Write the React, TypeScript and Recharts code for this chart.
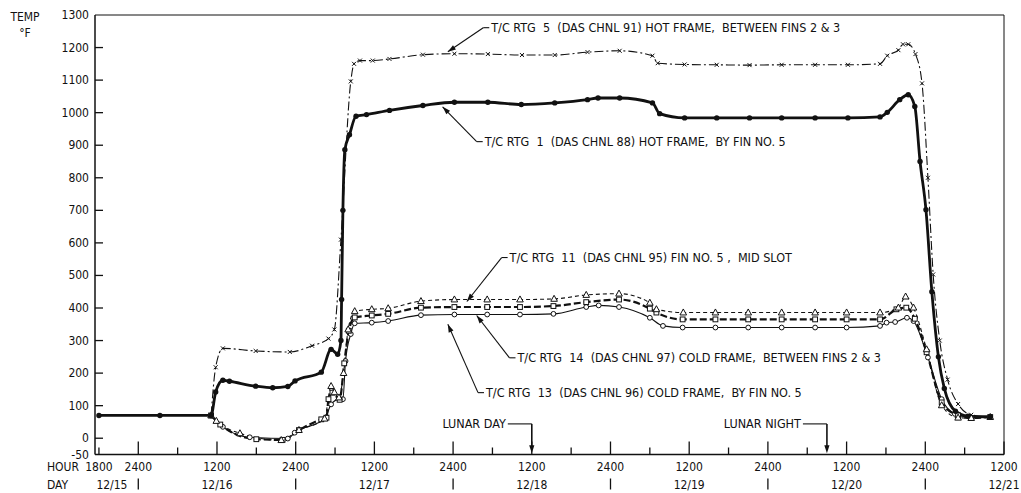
import React from 'react';
import { LineChart, Line, XAxis, YAxis, ReferenceLine } from 'recharts';

// hours counted from 12/15 0000, temperatures in deg F
const rtg5: number[][] = [
  [35.1, 70], [35.8, 218], [36.9, 276], [41.9, 268], [47.1, 265], [50.5, 284], [53.0, 306], [53.9, 334],
  [54.9, 610], [56.4, 1096], [56.9, 1150], [57.8, 1160], [59.75, 1160], [62.3, 1165], [67.4, 1178],
  [72.2, 1181], [77.3, 1180], [82.5, 1177], [87.5, 1177], [92.5, 1186], [97.4, 1190], [102.4, 1175],
  [103.2, 1152], [107.3, 1148], [112.2, 1147], [117.2, 1146], [122.1, 1147], [127.2, 1147], [132.2, 1147],
  [137.1, 1150], [138.2, 1175], [139.9, 1192], [140.6, 1210], [141.4, 1210], [142.5, 1180], [143.5, 1090],
  [144.4, 800], [145.2, 503], [146.2, 300], [147.4, 180], [149.0, 105], [151.0, 72], [153.9, 65],
];

const rtg1: number[][] = [
  [18, 70], [27.3, 70], [35.1, 70], [35.8, 142], [36.9, 178], [37.9, 175], [41.9, 160], [44.5, 155],
  [46.8, 159], [47.9, 176], [51.9, 203], [53.4, 273], [54.4, 258], [54.9, 300], [55.0, 426], [55.2, 700],
  [55.5, 886], [56.2, 932], [57.2, 989], [58.8, 994], [62.3, 1007], [67.4, 1022], [72.2, 1032], [77.3, 1032],
  [82.4, 1025], [87.5, 1030], [92.5, 1040], [94.1, 1045], [97.4, 1045], [102.4, 1030], [103.5, 997],
  [107.3, 984], [112.2, 984], [117.2, 984], [122.1, 984], [127.2, 984], [132.2, 984], [137.1, 987],
  [138.2, 1001], [140.1, 1040], [141.4, 1055], [142.4, 1019], [143.2, 850], [144.1, 702], [145.0, 450],
  [146.0, 250], [146.9, 153], [148.6, 83], [150.5, 68], [153.9, 66],
];

const rtg11: number[][] = [
  [35.1, 70], [35.9, 53], [39.5, 15], [45.8, -6], [48.5, 25], [52.4, 60], [53.4, 160], [53.9, 141],
  [54.6, 125], [55.3, 200], [56.0, 334], [57.0, 390], [59.6, 396], [62.1, 399], [67.1, 421], [72.2, 426],
  [77.2, 426], [82.2, 426], [87.4, 428], [92.3, 440], [97.3, 444], [102.0, 416], [103.0, 396], [107.1, 386],
  [112.0, 386], [117.0, 386], [122.1, 386], [127.2, 386], [132.0, 386], [137.1, 386], [139.9, 401],
  [141.0, 435], [142.2, 401], [144.2, 273], [146.5, 101], [149.0, 63], [151.0, 62], [153.9, 65],
];

const rtg14: number[][] = [
  [35.1, 70], [36.5, 42], [42.0, -3], [46.0, -5], [48.5, 25], [51.9, 58], [52.7, 63], [53.0, 120],
  [53.6, 140], [54.7, 118], [55.4, 230], [56.1, 330], [57.0, 371], [59.6, 377], [62.1, 382], [67.1, 401],
  [72.2, 403], [77.2, 403], [82.2, 403], [87.3, 406], [92.3, 418], [97.3, 426], [102.0, 398], [103.0, 386],
  [107.0, 365], [112.0, 365], [117.0, 365], [122.1, 365], [127.2, 365], [132.0, 365], [137.1, 365],
  [139.6, 396], [141.1, 401], [142.4, 367], [144.2, 264], [146.5, 110], [149.0, 70], [151.0, 62], [153.9, 65],
];

const rtg13: number[][] = [
  [35.1, 70], [36.9, 35], [41.0, 3], [46.8, -1], [47.85, 17], [52.5, 62], [53.4, 104], [54.7, 120],
  [55.2, 120], [55.6, 237], [56.4, 320], [57.0, 353], [59.6, 355], [62.1, 360], [67.1, 378], [72.2, 380],
  [77.2, 380], [82.2, 380], [87.3, 382], [92.3, 403], [94.2, 408], [97.3, 403], [102.0, 370], [104.0, 345],
  [107.0, 340], [112.0, 340], [117.0, 340], [122.1, 340], [127.2, 340], [132.0, 340], [137.1, 345],
  [138.1, 355], [139.4, 357], [141.2, 370], [142.2, 360], [144.4, 248], [146.5, 120], [148.5, 75],
  [151.0, 64], [153.9, 65],
];

const hourTicks = [18, 24, 30, 36, 42, 48, 54, 60, 66, 72, 78, 84, 90, 96, 102, 108, 114, 120, 126, 132, 138, 144, 150, 156];
const hourLabels: Record<number, string> = {
  18: '1800', 24: '2400', 36: '1200', 48: '2400', 60: '1200', 72: '2400', 84: '1200',
  96: '2400', 108: '1200', 120: '2400', 132: '1200', 144: '2400', 156: '1200',
};
const dayLabels: Record<number, string> = {
  36: '12/16', 60: '12/17', 84: '12/18', 108: '12/19', 132: '12/20', 156: '12/21',
};
const midnights = [24, 48, 72, 96, 120, 144];
const tempTicks = [-50, 0, 100, 200, 300, 400, 500, 600, 700, 800, 900, 1000, 1100, 1200, 1300];

// annotation anchors: [arrow tip hour, tip temp, text hour, text temp]
const seriesNotes: { text: string; at: number[] }[] = [
  { text: 'T/C RTG  5  (DAS CHNL 91) HOT FRAME,  BETWEEN FINS 2 & 3', at: [71.2, 1187, 76.6, 1261] },
  { text: 'T/C RTG  1  (DAS CHNL 88) HOT FRAME,  BY FIN NO. 5', at: [70.4, 1018, 75.6, 911] },
  { text: 'T/C RTG  11  (DAS CHNL 95) FIN NO. 5 ,  MID SLOT', at: [74.1, 420, 79.4, 555] },
  { text: 'T/C RTG  14  (DAS CHNL 97) COLD FRAME,  BETWEEN FINS 2 & 3', at: [75.6, 377, 80.6, 247] },
  { text: 'T/C RTG  13  (DAS CHNL 96) COLD FRAME,  BY FIN NO. 5', at: [71.2, 350, 75.8, 140] },
];
const lunarNotes: { text: string; hour: number }[] = [
  { text: 'LUNAR DAY', hour: 84 },
  { text: 'LUNAR NIGHT', hour: 129 },
];

const FONT = '"DejaVu Sans Condensed", "Liberation Sans Narrow", "DejaVu Sans", sans-serif';
const INK = '#111';
const TINY = 0.0001; // recharts swaps a 0 tick size for its default

const toPts = (rows: number[][]) => rows.map(([h, v]) => ({ h, v }));

function HourTick(props: any) {
  const { x, y, payload } = props;
  const h = payload.value as number;
  const len = h % 12 === 0 ? 13 : 7;
  const hour = hourLabels[h];
  const day = dayLabels[h];
  return (
    <g fontFamily={FONT} fontSize={12} fill={INK}>
      <line x1={x} x2={x} y1={y} y2={y - len} stroke={INK} strokeWidth={1.3} />
      {hour && (
        <text x={x} y={y + 12} textAnchor="middle" dominantBaseline="central">{hour}</text>
      )}
      {day && (
        <text x={x} y={y + 30} textAnchor="middle" dominantBaseline="central">{day}</text>
      )}
      {midnights.includes(h) && (
        <line x1={x} x2={x} y1={y + 24} y2={y + 35} stroke={INK} strokeWidth={1.3} />
      )}
      {h === 18 && (
        <>
          <text x={x + 13} y={y + 30} textAnchor="middle" dominantBaseline="central">12/15</text>
          <text x={x - 52} y={y + 12} dominantBaseline="central">HOUR</text>
          <text x={x - 52} y={y + 30} dominantBaseline="central">DAY</text>
        </>
      )}
    </g>
  );
}

function TempTick(props: any) {
  const { x, y, payload } = props;
  const v = payload.value as number;
  return (
    <g fontFamily={FONT} fontSize={12} fill={INK}>
      {v > -50 && v < 1300 && <line x1={x + 6} x2={x + 14} y1={y} y2={y} stroke={INK} strokeWidth={1.3} />}
      <text x={x} y={y} textAnchor="end" dominantBaseline="central">{v}</text>
    </g>
  );
}

function arrowHead(tx: number, ty: number, fx: number, fy: number) {
  const ang = Math.atan2(ty - fy, tx - fx);
  const a = 8;
  const w = 2.6;
  const bx = tx - a * Math.cos(ang);
  const by = ty - a * Math.sin(ang);
  const px = -Math.sin(ang) * w;
  const py = Math.cos(ang) * w;
  return `${tx},${ty} ${bx + px},${by + py} ${bx - px},${by - py}`;
}

const leader = (text: string) => (p: any) => {
  const { x1, y1, x2, y2 } = p;
  return (
    <g>
      <line x1={x2} y1={y2} x2={x1} y2={y1} stroke={INK} strokeWidth={1.1} />
      <polygon points={arrowHead(x1, y1, x2, y2)} fill={INK} />
      <line x1={x2} y1={y2} x2={x2 + 6} y2={y2} stroke={INK} strokeWidth={1.1} />
      <text
        x={x2 + 8}
        y={y2}
        dominantBaseline="central"
        fontFamily={FONT}
        fontSize={12.5}
        fill={INK}
        style={{ whiteSpace: 'pre' }}
      >
        {text}
      </text>
    </g>
  );
};

const lunar = (text: string) => (p: any) => {
  const { x1, y1, x2, y2 } = p;
  return (
    <g>
      <line x1={x1 - 24} y1={y1} x2={x1} y2={y1} stroke={INK} strokeWidth={1.1} />
      <line x1={x1} y1={y1} x2={x2} y2={y2 - 6} stroke={INK} strokeWidth={1.6} />
      <polygon points={arrowHead(x2, y2, x1, y1)} fill={INK} />
      <text x={x1 - 26} y={y1} textAnchor="end" dominantBaseline="central" fontFamily={FONT} fontSize={12.5} fill={INK}>
        {text}
      </text>
    </g>
  );
};

const xMark = (p: any) => (
  <g key={p.index}>
    <line x1={p.cx - 2} y1={p.cy - 2} x2={p.cx + 2} y2={p.cy + 2} stroke={INK} strokeWidth={1} />
    <line x1={p.cx - 2} y1={p.cy + 2} x2={p.cx + 2} y2={p.cy - 2} stroke={INK} strokeWidth={1} />
  </g>
);
const fullDot = (p: any) => <circle key={p.index} cx={p.cx} cy={p.cy} r={2.7} fill={INK} />;
const triMark = (p: any) => (
  <polygon
    key={p.index}
    points={`${p.cx},${p.cy - 3.6} ${p.cx - 3.3},${p.cy + 2.4} ${p.cx + 3.3},${p.cy + 2.4}`}
    fill="#fff"
    stroke={INK}
    strokeWidth={1}
  />
);
const sqMark = (p: any) => (
  <rect key={p.index} x={p.cx - 2.4} y={p.cy - 2.4} width={4.8} height={4.8} fill="#fff" stroke={INK} strokeWidth={1} />
);
const ringMark = (p: any) => <circle key={p.index} cx={p.cx} cy={p.cy} r={2.4} fill="#fff" stroke={INK} strokeWidth={1} />;

export default function App() {
  return (
    <div style={{ position: 'fixed', left: 0, top: 0, width: 1021, height: 493, background: '#fff', overflow: 'hidden' }}>
      <div
        style={{
          position: 'absolute', left: 8, top: 9, width: 34, fontFamily: FONT, fontSize: 12,
          color: INK, lineHeight: '16px', textAlign: 'center',
        }}
      >
        TEMP
        <br />
        °F
      </div>
      <LineChart width={1021} height={493} margin={{ top: 15, right: 17, bottom: 0, left: 0 }}>
        <XAxis
          dataKey="h"
          type="number"
          domain={[17.4, 156]}
          ticks={hourTicks}
          interval={0}
          allowDataOverflow
          tick={<HourTick />}
          tickLine={false}
          tickSize={TINY}
          tickMargin={0}
          height={38.5}
          axisLine={{ stroke: INK, strokeWidth: 1.5 }}
        />
        <YAxis
          type="number"
          domain={[-50, 1300]}
          ticks={tempTicks}
          interval={0}
          allowDataOverflow
          tick={<TempTick />}
          tickLine={false}
          tickSize={TINY}
          tickMargin={6}
          width={95}
          axisLine={{ stroke: INK, strokeWidth: 1.5 }}
        />
        <ReferenceLine y={1300} stroke={INK} strokeWidth={1} ifOverflow="visible" />
        <ReferenceLine x={156} stroke={INK} strokeWidth={1} ifOverflow="visible" />

        <Line data={toPts(rtg13)} dataKey="v" type="monotone" stroke={INK} strokeWidth={1.1} dot={ringMark} isAnimationActive={false} />
        <Line data={toPts(rtg14)} dataKey="v" type="monotone" stroke={INK} strokeWidth={2.2} strokeDasharray="7 3" dot={sqMark} isAnimationActive={false} />
        <Line data={toPts(rtg11)} dataKey="v" type="monotone" stroke={INK} strokeWidth={1.1} strokeDasharray="4 3" dot={triMark} isAnimationActive={false} />
        <Line data={toPts(rtg5)} dataKey="v" type="monotone" stroke={INK} strokeWidth={1.1} strokeDasharray="9 3 2 3" dot={xMark} isAnimationActive={false} />
        <Line data={toPts(rtg1)} dataKey="v" type="monotone" stroke={INK} strokeWidth={2.8} dot={fullDot} isAnimationActive={false} />

        {seriesNotes.map((n) => (
          <ReferenceLine
            key={n.text}
            segment={[{ x: n.at[0], y: n.at[1] }, { x: n.at[2], y: n.at[3] }]}
            shape={leader(n.text)}
            ifOverflow="visible"
          />
        ))}
        {lunarNotes.map((n) => (
          <ReferenceLine
            key={n.text}
            segment={[{ x: n.hour, y: 44 }, { x: n.hour, y: -46 }]}
            shape={lunar(n.text)}
            ifOverflow="visible"
          />
        ))}
      </LineChart>
    </div>
  );
}
